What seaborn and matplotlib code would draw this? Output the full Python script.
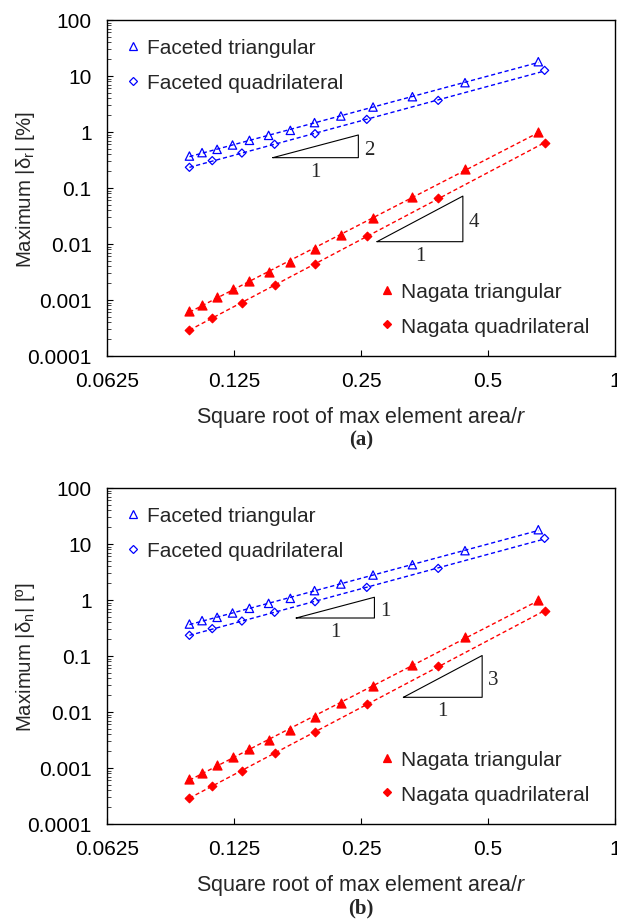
import numpy as np
import pandas as pd
import matplotlib
matplotlib.use("Agg")
import matplotlib.pyplot as plt
from matplotlib.lines import Line2D
from matplotlib.ticker import LogLocator, NullLocator, FixedLocator, FixedFormatter, NullFormatter
import seaborn as sns

# ---------------- data ----------------
x_fac_tri = [0.098, 0.105, 0.114, 0.124, 0.136, 0.151, 0.170, 0.194, 0.224, 0.267, 0.331, 0.441, 0.658]
y_fac_tri = [0.372, 0.428, 0.490, 0.586, 0.71, 0.871, 1.07, 1.47, 1.93, 2.79, 4.27, 7.6, 18.0]

x_fac_quad = [0.098, 0.111, 0.1305, 0.156, 0.1945, 0.258, 0.381, 0.681]
y_fac_quad = [0.234, 0.308, 0.421, 0.603, 0.933, 1.68, 3.67, 12.6]

x_nag_tri = [0.098, 0.105, 0.114, 0.124, 0.136, 0.151, 0.170, 0.194, 0.224, 0.267, 0.331, 0.441, 0.658]
y_nag_tri = [0.00063, 0.000826, 0.00111, 0.00155, 0.0022, 0.00314, 0.00473, 0.0080, 0.01426, 0.0286, 0.0692, 0.216, 1.0]

x_nag_quad = [0.098, 0.111, 0.1305, 0.156, 0.1945, 0.258, 0.381, 0.681]
y_nag_quad = [0.000286, 0.000485, 0.000885, 0.001846, 0.00435, 0.01387, 0.0664, 0.628]

x_ticks = [0.0625, 0.125, 0.25, 0.5, 1]
x_tick_labels = ["0.0625", "0.125", "0.25", "0.5", "1"]
y_ticks = [0.0001, 0.001, 0.01, 0.1, 1, 10, 100]
y_tick_labels = ["0.0001", "0.001", "0.01", "0.1", "1", "10", "100"]

series_names = ["Faceted triangular", "Faceted quadrilateral", "Nagata triangular", "Nagata quadrilateral"]

# slope triangles: (x0, x1, y0, y1), rise label, run label
tri_a = [(0.1545, 0.2464, 0.348, 0.885, "2", "1"), (0.2728, 0.4359, 0.011, 0.0717, "4", "1")]
tri_b = [(0.1755, 0.2690, 0.477, 1.12, "1", "1"), (0.3151, 0.4843, 0.0183, 0.102, "3", "1")]

ylabels = ["Maximum |δ$_\\mathregular{r}$| [%]", "Maximum |δ$_\\mathregular{n}$| [º]"]
panel_tags = ["(a)", "(b)"]
xlabel = "Square root of max element area/$\\mathregular{\\it{r}}$"

# ---------------- style ----------------
sns.set_style("ticks")
plt.rcParams["font.family"] = ["Liberation Sans", "DejaVu Sans"]
plt.rcParams["mathtext.fontset"] = "custom"
plt.rcParams["mathtext.rm"] = "Liberation Sans"
plt.rcParams["mathtext.it"] = "Liberation Sans:italic"
FS = 15

BLUE = "#0000FF"
RED = "#FF0000"

styles = {
    "Faceted triangular": dict(marker="^", s=36, face="none", color=BLUE),
    "Faceted quadrilateral": dict(marker="D", s=17, face="none", color=BLUE),
    "Nagata triangular": dict(marker="^", s=42, face=RED, color=RED),
    "Nagata quadrilateral": dict(marker="D", s=19, face=RED, color=RED),
}
data = {
    "Faceted triangular": (x_fac_tri, y_fac_tri),
    "Faceted quadrilateral": (x_fac_quad, y_fac_quad),
    "Nagata triangular": (x_nag_tri, y_nag_tri),
    "Nagata quadrilateral": (x_nag_quad, y_nag_quad),
}

W, H = 617, 920
fig = plt.figure(figsize=(W / 100, H / 100), dpi=100)
ax_a = fig.add_axes([107 / W, 1 - 357 / H, 508 / W, 336 / H])
ax_b = fig.add_axes([107 / W, 1 - 825 / H, 508 / W, 336 / H])


def draw_panel(ax, triangles, ylabel, tag):
    for name in series_names:
        xs, ys = data[name]
        st = styles[name]
        # power-law trend line (least squares in log-log space)
        k, b = np.polyfit(np.log10(xs), np.log10(ys), 1)
        xf = np.array([min(xs), max(xs)])
        fit = pd.DataFrame({"x": xf, "y": 10 ** (b + k * np.log10(xf))})
        sns.lineplot(data=fit, x="x", y="y", ax=ax, color=st["color"], lw=1.0,
                     linestyle=(0, (3, 2)), zorder=2)
        df = pd.DataFrame({"x": xs, "y": ys})
        sns.scatterplot(data=df, x="x", y="y", ax=ax, marker=st["marker"], s=st["s"],
                        color=st["color"], facecolor=st["face"], edgecolor=st["color"],
                        linewidth=0.9, zorder=3)

    ax.set_xscale("log", base=2)
    ax.set_yscale("log")
    ax.set_xlim(0.0625, 1)
    ax.set_ylim(1e-4, 100)
    ax.xaxis.set_major_locator(FixedLocator(x_ticks))
    ax.xaxis.set_major_formatter(FixedFormatter(x_tick_labels))
    ax.xaxis.set_minor_locator(NullLocator())
    ax.yaxis.set_major_locator(FixedLocator(y_ticks))
    ax.yaxis.set_major_formatter(FixedFormatter(y_tick_labels))
    ax.yaxis.set_minor_locator(LogLocator(base=10, subs=np.arange(2, 10), numticks=30))
    ax.yaxis.set_minor_formatter(NullFormatter())
    ax.tick_params(axis="both", which="major", direction="in", length=4.5, width=0.8,
                   labelsize=FS, colors="black")
    ax.tick_params(axis="x", which="major", pad=11)
    ax.tick_params(axis="y", which="major", pad=11)
    ax.tick_params(axis="y", which="minor", direction="in", length=3, width=0.6)
    ax.tick_params(top=False, right=False)
    for sp in ax.spines.values():
        sp.set_visible(True)
        sp.set_color("black")
        sp.set_linewidth(1.0)

    ax.set_xlabel(xlabel, fontsize=15.5, labelpad=10)
    ax.set_ylabel(ylabel, fontsize=14.7)
    ax.yaxis.set_label_coords(-0.137, 0.5)
    ax.text(0.5, -0.247, tag, transform=ax.transAxes, ha="center", va="center",
            fontsize=FS, fontweight="bold", family=["Liberation Serif"])

    # slope triangles
    for (x0, x1, y0, y1, rise, run) in triangles:
        ax.plot([x0, x1, x1, x0], [y0, y0, y1, y0], color="black", lw=0.8, zorder=1)
        ax.annotate(rise, (x1, np.sqrt(y0 * y1)), xytext=(4, -2), textcoords="offset points",
                    ha="left", va="center", fontsize=FS, family=["Liberation Serif"])
        ax.annotate(run, (np.sqrt(x0 * x1), y0), xytext=(0, -3), textcoords="offset points",
                    ha="center", va="top", fontsize=FS, family=["Liberation Serif"])

    # legends
    def handle(name):
        st = styles[name]
        return Line2D([], [], linestyle="none", marker=st["marker"],
                      markersize=np.sqrt(st["s"]) * 0.9, markerfacecolor=st["face"],
                      markeredgecolor=st["color"], markeredgewidth=0.9)

    leg1 = ax.legend([handle(n) for n in series_names[:2]], series_names[:2],
                     loc="upper left", bbox_to_anchor=(0.035, 0.945), frameon=False,
                     fontsize=FS, handlelength=0.75, handletextpad=0.3, labelspacing=0.75,
                     borderpad=0, borderaxespad=0)
    ax.add_artist(leg1)
    ax.legend([handle(n) for n in series_names[2:]], series_names[2:],
              loc="lower left", bbox_to_anchor=(0.535, 0.061), frameon=False,
              fontsize=FS, handlelength=0.75, handletextpad=0.3, labelspacing=0.75,
              borderpad=0, borderaxespad=0)


draw_panel(ax_a, tri_a, ylabels[0], panel_tags[0])
draw_panel(ax_b, tri_b, ylabels[1], panel_tags[1])

fig.savefig("out.png", dpi=100)
